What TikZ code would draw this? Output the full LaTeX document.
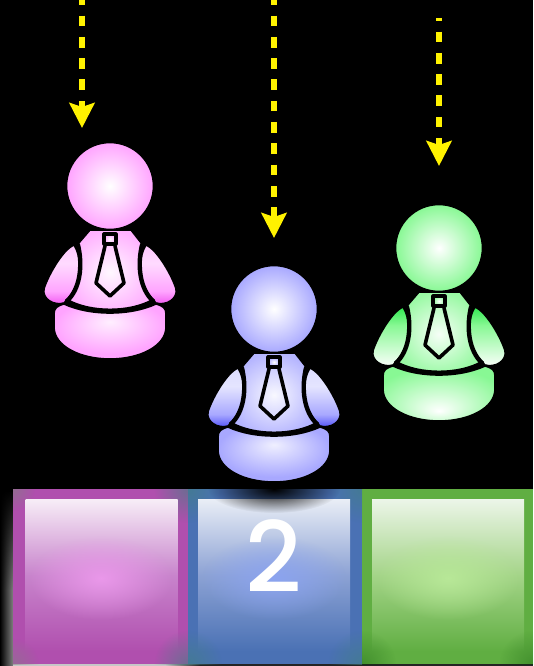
\documentclass[tikz,border=0pt]{standalone}
\usepackage{fontspec}
\newfontfamily\slotfont{Poppins Medium}
\usetikzlibrary{arrows.meta,fadings}
\definecolor{PinkBody}{HTML}{FFA4FF}
\definecolor{PinkDeep}{HTML}{F050F0}
\definecolor{BlueBody}{HTML}{A8A8FF}
\definecolor{BlueDeep}{HTML}{4848F8}
\definecolor{GreenBody}{HTML}{88F894}
\definecolor{GreenDeep}{HTML}{30E850}
\definecolor{PinkBand}{HTML}{B04FAE}
\definecolor{BlueBand}{HTML}{4A71B4}
\definecolor{GreenBand}{HTML}{60AE42}
\definecolor{PinkMid}{HTML}{C884CC}
\definecolor{BlueMid}{HTML}{8CA2D4}
\definecolor{GreenMid}{HTML}{A4D488}
\definecolor{PinkGlow}{HTML}{EA98EA}
\definecolor{BlueGlow}{HTML}{8CA4F0}
\definecolor{GreenGlow}{HTML}{B8E898}
\tikzfading[name=softspot,inner color=transparent!0,outer color=transparent!100]
\pgfdeclareradialshading[bodycol]{bellyhigh}{\pgfpoint{0bp}{9bp}}{color(0bp)=(bodycol!18!white);color(25bp)=(bodycol);color(50bp)=(bodycol)}
\pgfdeclareradialshading[bodycol]{bellylow}{\pgfpoint{0bp}{-16bp}}{color(0bp)=(white);color(30bp)=(bodycol);color(50bp)=(bodycol)}
\pgfdeclareradialshading[bodycol]{chestglow}{\pgfpoint{0bp}{0bp}}{color(0bp)=(bodycol!8!white);color(25bp)=(bodycol!85!white);color(50bp)=(bodycol)}
\pgfdeclareverticalshading[armhi,armup,armlow,armlo]{armfade}{100bp}{color(0bp)=(armlo);color(25bp)=(armlo);color(37bp)=(armlow);color(60bp)=(armup);color(75bp)=(armhi);color(100bp)=(armhi)}
\tikzset{
  partline/.style={draw=black,line width=1.6pt,line join=round},
  thickline/.style={draw=black,line width=4.4pt,line cap=round,line join=round},
  headball/.style={circle,draw=black,line width=1.6pt,minimum size=87pt,inner sep=0pt,inner color=white,outer color=bodycol},
  droparrow/.style={draw=yellow,line width=5.6pt,dash pattern=on 10.7pt off 10.6pt,
    -{Stealth[length=25pt,width=25pt,inset=4pt,fill=yellow]}},
  slotbox/.style={rectangle,minimum width=152pt,minimum height=152pt,anchor=north west,inner sep=0pt},
}
\newcommand{\person}[9]{%
  \colorlet{bodycol}{#4}\colorlet{armhi}{#5}\colorlet{armup}{#6}\colorlet{armlow}{#7}\colorlet{armlo}{#8}%
  \begin{scope}[shift={(#2,#3)}]
    \path[partline,shading=chestglow] (-20,44) -- (21,44) -- (32,58)
      .. controls (31,85) and (31,103) .. (44,116) .. controls (20,128) and (-20,128) .. (-44,116)
      .. controls (-31,103) and (-31,85) .. (-32,58) -- cycle;
    \path[partline,shading=#9] (-56,128) .. controls (-56,122) and (-53,120) .. (-46,118)
      .. controls (-20,130) and (20,130) .. (46,118) .. controls (53,120) and (56,122) .. (56,128) -- (56,141)
      .. controls (56,160) and (30,173) .. (0,173) .. controls (-30,173) and (-56,160) .. (-56,141) -- cycle;
    \path[partline,shading=armfade] (-36,59) .. controls (-48,64) and (-63,92) .. (-66,103)
      .. controls (-68,113) and (-56,120) .. (-46,117) .. controls (-36,108) and (-29,92) .. (-30,80)
      .. controls (-31,72) and (-32,65) .. (-36,59) -- cycle;
    \path[partline,shading=armfade] (36,59) .. controls (48,64) and (63,92) .. (66,103)
      .. controls (68,113) and (56,120) .. (46,117) .. controls (36,108) and (29,92) .. (30,80)
      .. controls (31,72) and (32,65) .. (36,59) -- cycle;
    \draw[thickline] (-32,59) .. controls (-27,80) and (-30,103) .. (-43,115);
    \draw[thickline] (32,59) .. controls (27,80) and (30,103) .. (43,115);
    \draw[thickline] (-43,115) .. controls (-20,128) and (20,128) .. (43,115);
    \path[draw=black,line width=3.2pt,inner color=white,outer color=#4,line join=round] (-6,48) rectangle (6,58);
    \draw[thickline,line width=3.6pt] (-5,60) -- (-14,97) -- (0,110) -- (14,97) -- (5,60);
    \node[headball] (#1head) at (0,0) {};
  \end{scope}
}
\begin{document}
\begin{tikzpicture}[x=1pt,y=-1pt]
  \useasboundingbox[fill=black] (0,0) rectangle (533,666);
  \coordinate (PinkFrom) at (82,0);
  \coordinate (PinkTo) at (82,128);
  \coordinate (BlueFrom) at (274,0);
  \coordinate (BlueTo) at (274,238);
  \coordinate (GreenFrom) at (439,18);
  \coordinate (GreenTo) at (439,166);
  \shade[left color=black,right color=black!50!white] (0,492) rectangle (13,666);
  \fill[black,path fading=south] (0,490) rectangle (13,590);
  \fill[black!86!white] (188,664) rectangle (533,666);
  \shade[left color=black!22!white,right color=black!86!white] (165,664) rectangle (200,666);
  \fill[black!22!white] (13,664) rectangle (165,666);
  \fill[PinkBand] (13,489) rectangle (188,664);
  \fill[BlueBand] (188,489) rectangle (362,664);
  \fill[GreenBand] (362,489) rectangle (533,664);
  \begin{scope}
    \clip (13,489) rectangle (362,664);
    \fill[gray,opacity=.6,path fading=softspot] (13,489) circle (22);
    \foreach \cornerx in {188,362}
      \fill[teal!50!gray,opacity=.6,path fading=softspot] (\cornerx,489) circle (34);
  \end{scope}
  \node[slotbox,shading=axis,top color=PinkBand!10!white,bottom color=PinkBand,middle color=PinkMid] (PinkSlot) at (25.5,499) {};
  \node[slotbox,shading=axis,top color=BlueBand!12!white,bottom color=BlueBand,middle color=BlueMid] (BlueSlot) at (198,499) {};
  \node[slotbox,shading=axis,top color=GreenBand!12!white,bottom color=GreenBand,middle color=GreenMid] (GreenSlot) at (372,499) {};
  \fill[PinkGlow,path fading=softspot] (101,578) ellipse (72 and 42);
  \fill[BlueGlow,path fading=softspot] (274,578) ellipse (72 and 42);
  \fill[GreenGlow,path fading=softspot] (448,578) ellipse (72 and 42);
  \begin{scope}
    \clip (13,489) rectangle (362,664);
    \fill[gray,opacity=.5,path fading=softspot] (13,664) circle (26);
    \foreach \cornerx in {188,362}
      \fill[teal!50!gray,opacity=.6,path fading=softspot] (\cornerx,664) circle (34);
    \fill[black,path fading=softspot] (274,489) ellipse (66 and 24);
  \end{scope}
  \begin{scope}
    \clip (362,489) rectangle (533,664);
    \foreach \cornerx in {362,533}
      \fill[green!30!black,opacity=.3,path fading=softspot] (\cornerx,664) circle (34);
  \end{scope}
  \node[text=white,font=\slotfont\fontsize{98}{98}\selectfont,inner sep=0pt] (SlotNum) at (274,556.5) {2};
  \person{Pink}{110}{186}{PinkBody}{PinkBody!60!white}{PinkBody!40!white}{PinkBody}{PinkDeep}{bellyhigh}
  \person{Blue}{274}{309}{BlueBody}{BlueBody!40!white}{BlueBody!30!white}{BlueBody}{BlueDeep}{bellyhigh}
  \person{Green}{439}{248}{GreenBody}{GreenDeep}{GreenBody}{GreenBody!35!white}{white}{bellylow}
  \draw[droparrow,dash phase=5.7pt] (PinkFrom) -- (PinkTo);
  \draw[droparrow,dash phase=5.7pt] (BlueFrom) -- (BlueTo);
  \draw[droparrow,dash phase=7.7pt] (GreenFrom) -- (GreenTo);
\end{tikzpicture}
\end{document}
